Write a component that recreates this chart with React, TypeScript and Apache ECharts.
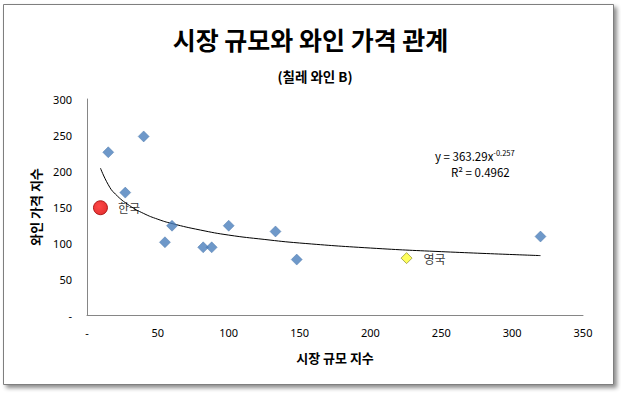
import React, { useEffect, useRef } from "react";
import * as echarts from "echarts";

const TITLE = "시장 규모와 와인 가격 관계";
const SUBTITLE = "(칠레 와인 B)";
const X_NAME = "시장 규모 지수";
const Y_NAME = "와인 가격 지수";

// blue diamond points: [market size index, wine price index]
const countryPoints: [number, number][] = [
  [15, 226],
  [27, 170],
  [40, 248],
  [55, 101],
  [60, 124],
  [82, 94],
  [88, 94],
  [100, 124],
  [133, 116],
  [148, 77],
  [320, 109],
];
const korea: [number, number] = [9.5, 149];
const uk: [number, number] = [225.5, 79];
const KOREA_LABEL = "한국";
const UK_LABEL = "영국";

// power trend line
const trendPoints: [number, number][] = [
  [9.5, 204],
  [15, 181],
  [20, 168],
  [30, 152],
  [40, 141],
  [50, 133],
  [60, 127],
  [80, 118],
  [100, 111],
  [125, 105],
  [150, 100],
  [200, 93],
  [250, 88],
  [320, 82.5],
];
const EQ_MAIN = "y = 363.29x";
const EQ_EXP = "-0.257";
const R2 = "R² = 0.4962";

const FONT = "'Noto Sans CJK KR', 'Noto Sans', sans-serif";

export default function App() {
  const ref = useRef<HTMLDivElement>(null);
  useEffect(() => {
    if (!ref.current) return;
    const chart = echarts.init(ref.current, null, { renderer: "svg" });
    chart.setOption({
      animation: false,
      backgroundColor: "#ffffff",
      textStyle: { fontFamily: FONT },
      title: [
        {
          text: TITLE,
          left: "center",
          top: 21,
          textStyle: { fontSize: 25, fontWeight: "bold", color: "#000", fontFamily: FONT },
        },
        {
          text: SUBTITLE,
          left: 310,
          top: 64,
          textAlign: "center",
          textStyle: { fontSize: 13.5, fontWeight: "bold", color: "#000", fontFamily: FONT },
        },
      ],
      grid: { left: 87, top: 99, width: 496, height: 216, containLabel: false },
      xAxis: {
        type: "value",
        min: 0,
        max: 350,
        interval: 50,
        name: X_NAME,
        nameLocation: "middle",
        nameGap: 36,
        nameTextStyle: { fontSize: 13, fontWeight: "bold", color: "#000", fontFamily: FONT },
        axisLine: { show: true, lineStyle: { color: "#868686" } },
        axisTick: { show: false },
        splitLine: { show: false },
        axisLabel: {
          fontSize: 11,
          color: "#000",
          margin: 12,
          fontFamily: "'Noto Sans', sans-serif",
          formatter: (v: number) => (v === 0 ? "-" : String(v)),
        },
      },
      yAxis: {
        type: "value",
        min: 0,
        max: 300,
        interval: 50,
        name: Y_NAME,
        nameLocation: "middle",
        nameGap: 32,
        nameRotate: 90,
        nameTextStyle: { fontSize: 13, fontWeight: "bold", color: "#000", fontFamily: FONT },
        axisLine: { show: true, lineStyle: { color: "#868686" } },
        axisTick: { show: false },
        splitLine: { show: false },
        axisLabel: {
          fontSize: 11,
          color: "#000",
          margin: 15,
          fontFamily: "'Noto Sans', sans-serif",
          formatter: (v: number) => (v === 0 ? "-" : String(v)),
        },
      },
      graphic: [
        {
          type: "rect",
          z: -10,
          silent: true,
          shape: { x: 3.5, y: 4.5, width: 610, height: 380 },
          style: {
            fill: "#fff",
            stroke: "#7f7f7f",
            lineWidth: 1,
            shadowBlur: 4,
            shadowOffsetX: 3,
            shadowOffsetY: 3,
            shadowColor: "rgba(0,0,0,0.45)",
          },
        },
        {
          type: "text",
          left: 435,
          top: 149,
          style: {
            text: "{a|" + EQ_MAIN + "}{s|" + EQ_EXP + "}",
            rich: {
              a: { fontSize: 11.5, fontFamily: FONT, fill: "#000", lineHeight: 14 },
              s: { fontSize: 7.5, fontFamily: FONT, fill: "#000", lineHeight: 8, verticalAlign: "top" },
            },
          },
        },
        {
          type: "text",
          left: 451,
          top: 166,
          style: { text: R2, fontSize: 11.5, fontFamily: FONT, fill: "#000" },
        },
      ],
      series: [
        {
          type: "line",
          data: trendPoints,
          smooth: true,
          showSymbol: false,
          symbol: "none",
          lineStyle: { color: "#000", width: 1 },
          z: 3,
        },
        {
          type: "scatter",
          data: countryPoints,
          symbol: "diamond",
          symbolSize: 11,
          itemStyle: { color: "#4a7ebb", borderColor: "#3e6da6", borderWidth: 0.5 },
          z: 4,
        },
        {
          type: "scatter",
          data: [korea],
          symbol: "circle",
          symbolSize: 14,
          itemStyle: {
            color: {
              type: "radial",
              x: 0.4,
              y: 0.4,
              r: 0.6,
              colorStops: [
                { offset: 0, color: "#ff1a1a" },
                { offset: 1, color: "#e00000" },
              ],
            },
            borderColor: "#a00000",
            borderWidth: 1,
          },
          label: {
            show: true,
            position: "right",
            distance: 10,
            formatter: KOREA_LABEL,
            fontSize: 12,
            color: "#000",
            fontFamily: FONT,
          },
          z: 5,
        },
        {
          type: "scatter",
          data: [uk],
          symbol: "diamond",
          symbolSize: 11,
          itemStyle: { color: "#ffff33", borderColor: "#9a9a3a", borderWidth: 1 },
          label: {
            show: true,
            position: "right",
            distance: 11,
            formatter: UK_LABEL,
            fontSize: 12,
            color: "#000",
            fontFamily: FONT,
          },
          z: 5,
        },
      ],
    });
    return () => chart.dispose();
  }, []);
  return (
    <div
      ref={ref}
      style={{ position: "fixed", left: 0, top: 0, width: 621, height: 394 }}
    />
  );
}
